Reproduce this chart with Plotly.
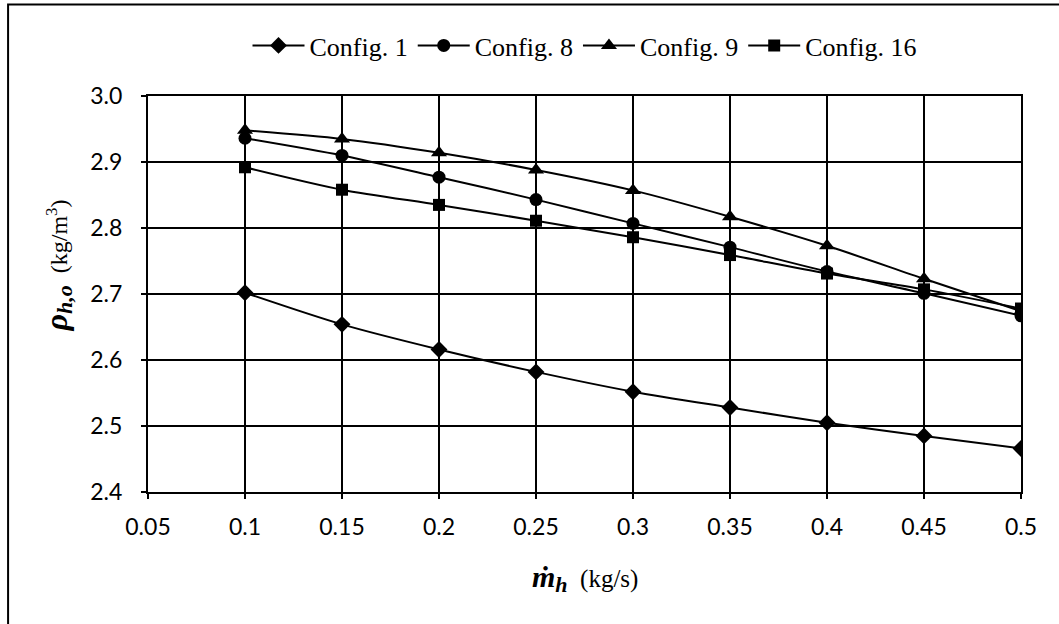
import plotly.graph_objects as go

# ---- data ----
mass_flow = [0.1, 0.15, 0.2, 0.25, 0.3, 0.35, 0.4, 0.45, 0.5]
config_1 = [2.702, 2.654, 2.616, 2.582, 2.552, 2.528, 2.505, 2.485, 2.466]
config_8 = [2.936, 2.910, 2.877, 2.843, 2.807, 2.771, 2.734, 2.701, 2.667]
config_9 = [2.948, 2.935, 2.914, 2.888, 2.857, 2.817, 2.773, 2.723, 2.674]
config_16 = [2.892, 2.858, 2.835, 2.811, 2.786, 2.759, 2.731, 2.707, 2.678]
series_names = ["Config. 1", "Config. 8", "Config. 9", "Config. 16"]
x_ticks = [0.05, 0.1, 0.15, 0.2, 0.25, 0.3, 0.35, 0.4, 0.45, 0.5]
x_tick_labels = ["0.05", "0.1", "0.15", "0.2", "0.25", "0.3", "0.35", "0.4", "0.45", "0.5"]
y_ticks = [2.4, 2.5, 2.6, 2.7, 2.8, 2.9, 3.0]
y_tick_labels = ["2.4", "2.5", "2.6", "2.7", "2.8", "2.9", "3.0"]

# ---- layout geometry (pixels) ----
W, H = 1059, 624
L, R, T, B = 147.5, 38, 96.4, 132.3
pw, ph = W - L - R, H - T - B


def px_x(p):
    return (p - L) / pw


def px_y(p):
    return (H - B - p) / ph


symbols = ["diamond", "circle", "triangle-up", "square"]
sizes = [13, 13, 14, 12]
series = [config_1, config_8, config_9, config_16]

fig = go.Figure()
for name, vals, sym, sz in zip(series_names, series, symbols, sizes):
    fig.add_trace(go.Scatter(
        x=mass_flow, y=vals, name=name, mode="lines+markers",
        line=dict(color="black", width=2, shape="spline", smoothing=0.8),
        marker=dict(symbol=sym, size=sz, color="black", line=dict(width=0)),
    ))

tick_font = dict(family="Lato, Liberation Sans, sans-serif", size=23, color="black")
serif = "Liberation Serif, Times New Roman, serif"

fig.update_layout(
    width=W, height=H,
    margin=dict(l=L, r=R, t=T, b=B, pad=0),
    paper_bgcolor="white", plot_bgcolor="white",
    showlegend=True,
    legend=dict(
        orientation="h", x=0.5, xanchor="center",
        y=px_y(46), yanchor="middle",
        font=dict(family=serif, size=26, color="black"),
        itemwidth=52, tracegroupgap=0, bgcolor="rgba(0,0,0,0)",
    ),
    xaxis=dict(
        range=[0.05, 0.5], tickmode="array", tickvals=x_ticks, ticktext=x_tick_labels,
        showgrid=True, gridcolor="black", gridwidth=1.5,
        showline=True, linecolor="black", linewidth=2, mirror=True,
        ticks="outside", ticklen=5, tickwidth=1.5, tickcolor="black",
        tickfont=tick_font, zeroline=False, ticklabelstandoff=8,
    ),
    yaxis=dict(
        range=[2.4, 3.0], tickmode="array", tickvals=y_ticks, ticktext=y_tick_labels,
        showgrid=True, gridcolor="black", gridwidth=1.5,
        showline=True, linecolor="black", linewidth=2, mirror=True,
        ticks="outside", ticklen=5, tickwidth=1.5, tickcolor="black",
        tickfont=tick_font, zeroline=False, ticklabelstandoff=14,
    ),
    annotations=[
        dict(
            xref="paper", yref="paper", x=px_x(57), y=px_y(266),
            xanchor="center", yanchor="middle", textangle=-90, showarrow=False,
            text=("<b><i><span style='font-size:32px'>ρ</span>"
                  "<sub><span style='font-size:22px'>h,o</span></sub></i></b>"
                  "  (kg/m<sup>3</sup>)"),
            font=dict(family=serif, size=24, color="black"),
        ),
        dict(
            xref="paper", yref="paper", x=0.5, y=px_y(578),
            xanchor="center", yanchor="middle", showarrow=False,
            text=("<b><i><span style='font-size:30px'>ṁ</span>"
                  "<sub><span style='font-size:22px'>h</span></sub></i></b>"
                  "  (kg/s)"),
            font=dict(family=serif, size=25, color="black"),
        ),
    ],
    shapes=[
        dict(type="rect", xref="paper", yref="paper",
             x0=px_x(7.5), x1=px_x(W + 20), y0=px_y(H + 20), y1=px_y(5),
             line=dict(color="black", width=2), fillcolor="rgba(0,0,0,0)", layer="below"),
    ],
)

fig.write_html("out.html")
